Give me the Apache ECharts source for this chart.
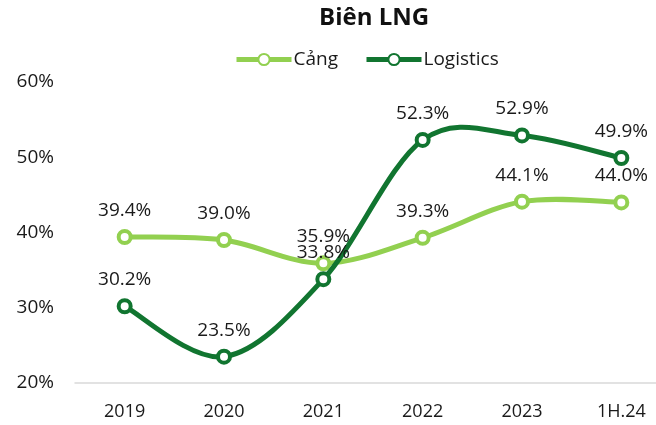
<!DOCTYPE html>
<html>
<head>
<meta charset="utf-8">
<script src="https://cdn.jsdelivr.net/npm/echarts@6/dist/echarts.min.js"></script>
<style>
html, body { margin: 0; padding: 0; background: #fff; }
#myChart { width: 656px; height: 425px; }
</style>
</head>
<body>
<div id="myChart"></div>
<script>
var categories = ['2019', '2020', '2021', '2022', '2023', '1H.24'];
var cangData = [39.4, 39.0, 35.9, 39.3, 44.1, 44.0];
var logisticsData = [30.2, 23.5, 33.8, 52.3, 52.9, 49.9];
var yTicks = [20, 30, 40, 50, 60];

var colorCang = '#92d050';
var colorLog = '#117530';
var fontFamily = '"Open Sans", "Noto Sans", sans-serif';

var myChart_1 = echarts.init(document.getElementById('myChart'));

// excel-like smooth line: catmull-rom segments, points mapped by the axes
function curveSeries(values, color, z) {
    return {
        type: 'custom', name: 'curve', z: z, silent: true,
        data: values.map(function (v, i) { return [i, v]; }),
        renderItem: function (params, api) {
            var i = params.dataIndex;
            if (i >= values.length - 1) { return null; }
            var p = function (k) {
                k = Math.max(0, Math.min(values.length - 1, k));
                return api.coord([k, values[k]]);
            };
            var p0 = p(i - 1), p1 = p(i), p2 = p(i + 1), p3 = p(i + 2);
            return {
                type: 'bezierCurve',
                shape: {
                    x1: p1[0], y1: p1[1], x2: p2[0], y2: p2[1],
                    cpx1: p1[0] + (p2[0] - p0[0]) / 6, cpy1: p1[1] + (p2[1] - p0[1]) / 6,
                    cpx2: p2[0] - (p3[0] - p1[0]) / 6, cpy2: p2[1] - (p3[1] - p1[1]) / 6
                },
                style: { stroke: color, lineWidth: 5, fill: null, lineCap: 'round' }
            };
        }
    };
}

function markerSeries(name, data, color, z) {
    return {
        name: name, type: 'line', data: data, z: z,
        symbol: 'circle', symbolSize: 12,
        lineStyle: { color: color, width: 5, opacity: 0 },
        itemStyle: { color: '#fff', borderColor: color, borderWidth: 4 },
        label: {
            show: true, position: 'top', distance: 9,
            color: '#1a1a1a', fontSize: 19, fontFamily: fontFamily,
            formatter: function (p) { return p.value.toFixed(1) + '%'; }
        }
    };
}

var option = {
    animation: false,
    title: {
        text: 'Biên LNG', left: 314, top: 1,
        textStyle: { fontSize: 24, fontWeight: 'bold', color: '#111', fontFamily: fontFamily }
    },
    legend: {
        top: 45, left: 229, itemWidth: 55, itemHeight: 14, itemGap: 26,
        textStyle: { fontSize: 19, color: '#1a1a1a', fontFamily: fontFamily, padding: [0, 0, 0, -3] },
        data: [
            { name: 'Cảng', lineStyle: { color: colorCang, width: 5, opacity: 1 } },
            { name: 'Logistics', lineStyle: { color: colorLog, width: 5, opacity: 1 } }
        ]
    },
    grid: { left: 75, width: 596, top: 82, bottom: 42, outerBoundsMode: 'none' },
    xAxis: {
        type: 'category', data: categories, boundaryGap: true,
        axisTick: { show: false },
        axisLine: { show: true, lineStyle: { color: '#d9d9d9', width: 1.5 } },
        axisLabel: { margin: 20, fontSize: 18, color: '#1a1a1a', fontFamily: fontFamily }
    },
    yAxis: {
        type: 'value', min: yTicks[0], max: yTicks[yTicks.length - 1], interval: 10,
        axisLine: { show: false }, axisTick: { show: false },
        splitLine: { show: false },
        axisLabel: { margin: 21, fontSize: 19, color: '#1a1a1a', fontFamily: fontFamily, formatter: '{value}%' }
    },
    series: [
        curveSeries(cangData, colorCang, 2),
        markerSeries('Cảng', cangData, colorCang, 3),
        curveSeries(logisticsData, colorLog, 4),
        markerSeries('Logistics', logisticsData, colorLog, 5)
    ]
};
myChart_1.setOption(option);
</script>
</body>
</html>
